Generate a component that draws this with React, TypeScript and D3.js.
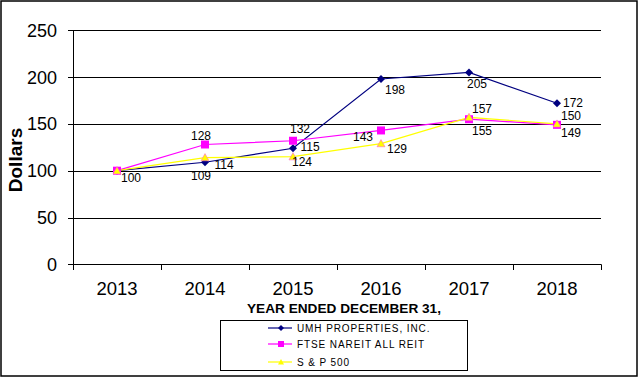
import React from "react";
import * as d3 from "d3";

const years = ["2013", "2014", "2015", "2016", "2017", "2018"];
const umh = [100, 109, 124, 198, 205, 172];
const ftse = [100, 128, 132, 143, 155, 149];
const sp = [100, 114, 115, 129, 157, 150];
const yTicks = [0, 50, 100, 150, 200, 250];
const seriesNames = ["UMH PROPERTIES, INC.", "FTSE NAREIT ALL REIT", "S & P 500"];

// label offsets (style)
const umhOff: [number, number][] = [[14, 7], [-4, 13], [9, 13], [14, 11], [8, 11], [16, -1]];
const ftseOff: [number, number][] = [[999, 0], [-4, -8.5], [7, -12], [-18, 6.5], [13, 11], [14, 8]];
const spOff: [number, number][] = [[999, 0], [19, 7.4], [17, -10], [16, 5.4], [13, -9], [14, -8]];

const W = 639, H = 377;
const L = 73, R = 601, T = 30.3, B = 264.3;
const FONT = "'Liberation Sans', Arial, sans-serif";

export default function App() {
  const x = d3.scaleBand().domain(years).range([L, R]);
  const y = d3.scaleLinear().domain([0, 250]).range([B, T]);
  const cx = (i: number) => (x(years[i]) as number) + x.bandwidth() / 2;
  const line = d3.line<number>().x((_, i) => cx(i)).y((v) => y(v));

  const diamond = (px: number, py: number, s: number) =>
    `M${px},${py - s}L${px + s},${py}L${px},${py + s}L${px - s},${py}Z`;
  const tri = (px: number, py: number, s: number) =>
    `M${px},${py - s}L${px + s},${py + s * 0.8}L${px - s},${py + s * 0.8}Z`;

  const series = [
    { vals: umh, color: "#000080", off: umhOff, kind: "d" },
    { vals: ftse, color: "#FF00FF", off: ftseOff, kind: "s" },
    { vals: sp, color: "#FFFF00", off: spOff, kind: "t" },
  ];

  const marker = (kind: string, px: number, py: number, color: string, big: boolean) => {
    if (kind === "d") return <path d={diamond(px, py, big ? 4 : 3)} fill={color} />;
    if (kind === "s") {
      const s = big ? 4 : 3;
      return <rect x={px - s} y={py - s} width={2 * s} height={2 * s} fill={color} />;
    }
    return <path d={tri(px, py, big ? 4 : 3)} fill={color} stroke="#FF66CC" strokeWidth={big ? 0.6 : 0} />;
  };

  return (
    <svg width={W} height={H} style={{ position: "absolute", left: 0, top: 0, background: "#fff" }} fontFamily={FONT}>
      <rect x={1} y={1} width={636} height={375} fill="#fff" stroke="#000" strokeWidth={1.5} />
      {/* gridlines & y ticks */}
      {yTicks.map((t) => (
        <g key={t}>
          <line x1={68} x2={R} y1={Math.round(y(t)) + 0.5} y2={Math.round(y(t)) + 0.5} stroke="#000" strokeWidth={1} />
          <text x={57} y={y(t) + 6.5} textAnchor="end" fontSize={18}>{t}</text>
        </g>
      ))}
      <line x1={L + 0.5} x2={L + 0.5} y1={T} y2={B} stroke="#000" />
      {/* x ticks */}
      {years.map((yr, i) => (
        <line key={"t" + yr} x1={Math.round(x(yr) as number) + 0.5} x2={Math.round(x(yr) as number) + 0.5} y1={B} y2={270} stroke="#000" />
      ))}
      <line x1={R + 0.5} x2={R + 0.5} y1={B} y2={270} stroke="#000" />
      {years.map((yr, i) => (
        <text key={yr} x={cx(i)} y={295} textAnchor="middle" fontSize={18.5}>{yr}</text>
      ))}
      <text x={344} y={313} textAnchor="middle" fontSize={13} fontWeight="bold" textLength={194} lengthAdjust="spacingAndGlyphs">YEAR ENDED DECEMBER 31,</text>
      <text transform="translate(22,160) rotate(-90)" textAnchor="middle" fontSize={19} fontWeight="bold">Dollars</text>
      {/* lines */}
      {series.map((s, k) => (
        <path key={"l" + k} d={line(s.vals) as string} fill="none" stroke={s.color} strokeWidth={1.2} />
      ))}
      {/* markers */}
      {series.map((s, k) => (
        <g key={"m" + k}>
          {s.vals.map((v, i) => (
            <g key={i}>{marker(s.kind, cx(i), y(v), s.color, true)}</g>
          ))}
        </g>
      ))}
      {/* labels */}
      {series.map((s, k) => (
        <g key={"lb" + k}>
          {s.vals.map((v, i) =>
            s.off[i][0] > 500 ? null : (
              <text key={i} x={cx(i) + s.off[i][0]} y={y(v) + s.off[i][1] + 4.3} textAnchor="middle" fontSize={12} fill="#000">{v}</text>
            )
          )}
        </g>
      ))}
      {/* legend */}
      <rect x={220.5} y={320.5} width={247} height={50} fill="#fff" stroke="#000" strokeWidth={1} />
      {series.map((s, k) => {
        const ly = [328, 344, 362][k];
        return (
          <g key={"lg" + k}>
            <line x1={268} x2={292} y1={ly} y2={ly} stroke={s.color} strokeWidth={1.2} />
            {marker(s.kind, 281, ly, s.color, false)}
            <text x={297} y={ly + 3.6} fontSize={10} letterSpacing={0.9}>{seriesNames[k]}</text>
          </g>
        );
      })}
    </svg>
  );
}
